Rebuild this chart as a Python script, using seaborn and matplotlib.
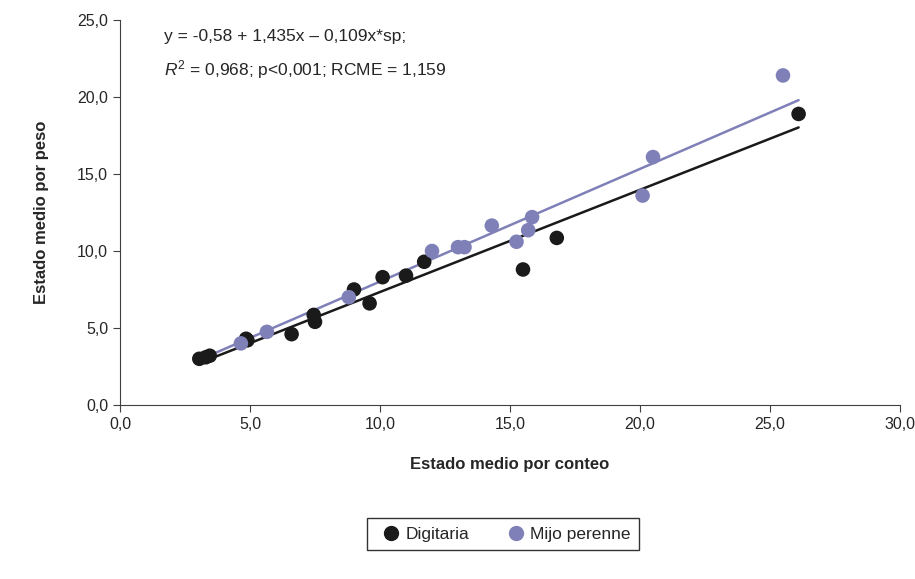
import matplotlib
matplotlib.use("Agg")
import matplotlib.pyplot as plt
import numpy as np
import pandas as pd
import seaborn as sns

dig_x = [3.05, 3.3, 3.45, 4.85, 4.9, 6.6, 7.5, 7.45, 9.0, 9.6, 10.1, 11.0, 11.7, 15.5, 16.8, 26.1]
dig_y = [3.0, 3.1, 3.2, 4.3, 4.2, 4.6, 5.4, 5.85, 7.5, 6.6, 8.3, 8.4, 9.3, 8.8, 10.85, 18.9]
mijo_x = [4.65, 5.65, 8.8, 12.0, 13.0, 13.25, 14.3, 15.25, 15.7, 15.85, 20.1, 20.5, 25.5]
mijo_y = [4.0, 4.75, 7.0, 10.0, 10.25, 10.25, 11.65, 10.6, 11.35, 12.2, 13.6, 16.1, 21.4]

df = pd.concat([
    pd.DataFrame({"x": dig_x, "y": dig_y, "sp": "Digitaria"}),
    pd.DataFrame({"x": mijo_x, "y": mijo_y, "sp": "Mijo perenne"}),
])
colors = {"Digitaria": "#1a1a1a", "Mijo perenne": "#8080b8"}

sns.set_style("white")
plt.rcParams["font.family"] = ["Liberation Sans", "DejaVu Sans"]
plt.rcParams["mathtext.fontset"] = "custom"
plt.rcParams["mathtext.it"] = "Liberation Sans:italic"
plt.rcParams["mathtext.rm"] = "Liberation Sans"
fig = plt.figure(figsize=(9.15, 5.79), dpi=100)
ax = fig.add_axes([120 / 915, 1 - 405 / 579, 780 / 915, 385 / 579])

# common intercept, separate slopes (y = a + b*x + c*x*sp)
is_dig = (df["sp"] == "Digitaria").to_numpy()
X = np.column_stack([np.ones(len(df)), df["x"] * is_dig, df["x"] * ~is_dig])
a, b_dig, b_mijo = np.linalg.lstsq(X, df["y"].to_numpy(), rcond=None)[0]
xs = np.array([3.0, 26.1])
ax.plot(xs, a + b_dig * xs, color=colors["Digitaria"], lw=1.8, zorder=2)
ax.plot(xs, a + b_mijo * xs, color=colors["Mijo perenne"], lw=1.8, zorder=2)
sns.scatterplot(data=df, x="x", y="y", hue="sp", palette=colors, s=110,
                edgecolor="none", ax=ax, zorder=3, legend=False)

ax.set_xlim(0, 30)
ax.set_ylim(0, 25)
ax.set_xticks(np.arange(0, 31, 5))
ax.set_yticks(np.arange(0, 26, 5))
ax.set_xticklabels([f"{v:.1f}".replace(".", ",") for v in np.arange(0, 31, 5)], fontsize=11.5)
ax.set_yticklabels([f"{v:.1f}".replace(".", ",") for v in np.arange(0, 26, 5)], fontsize=11.5)
for s in ["top", "right"]:
    ax.spines[s].set_visible(False)
for s in ["left", "bottom"]:
    ax.spines[s].set_color("#404040")
ax.tick_params(direction="out", length=5, color="#404040", left=True, bottom=True)
ax.set_xlabel("Estado medio por conteo", fontsize=12, fontweight="bold", labelpad=18)
ax.set_ylabel("Estado medio por peso", fontsize=12, fontweight="bold", labelpad=20)

ax.text(1.7, 23.9, "y = -0,58 + 1,435x \u2013 0,109x*sp;", fontsize=12.5, va="center")
ax.text(1.7, 21.8, r"$R^{2}$ = 0,968; p<0,001; RCME = 1,159", fontsize=12.5, va="center")

handles = [plt.Line2D([], [], marker="o", ls="", color=colors[k], markersize=10) for k in colors]
fig.legend(handles, list(colors), loc="center", bbox_to_anchor=(503 / 915, 1 - 534 / 579),
           ncol=2, fontsize=12.5, frameon=True, fancybox=False, edgecolor="black",
           handletextpad=-0.1, columnspacing=1.8, borderpad=0.5, handlelength=1.8)

fig.savefig("out.png", dpi=100)
